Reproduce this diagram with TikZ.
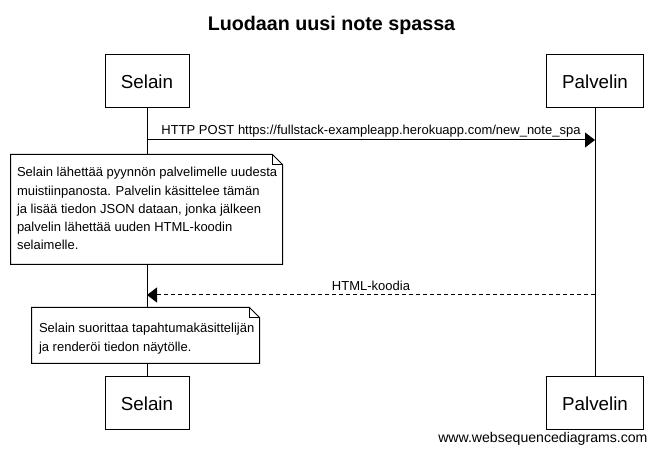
\documentclass[tikz,border=0pt]{standalone}
\usepackage{fontspec}
\setmainfont{Liberation Sans}
\usetikzlibrary{positioning,calc,arrows.meta}

\begin{document}
\begin{tikzpicture}[x=1pt,y=-1pt,line width=1pt,
    actor/.style={draw,fill=white,minimum height=53pt,inner sep=0pt,font=\fontsize{18.8}{22}\selectfont},
    msg/.style={-{Triangle[length=10pt,width=15pt]}},
    msgtext/.style={midway,anchor=base,inner sep=0pt,font=\fontsize{13}{16}\selectfont},
    notebox/.style={inner sep=0pt},
    notetext/.style={anchor=north west,inner sep=0pt,align=left,font=\fontsize{13}{18.2}\selectfont}]
    \useasboundingbox (0,0) rectangle (657,454);

    %% title
     \node (title) [anchor=base,inner sep=0pt,font=\bfseries\fontsize{19.7}{24}\selectfont] at (331.5,30.5) {Luodaan uusi note spassa};

    %% participants
     \node (sel1) [actor,minimum width=84pt] at (147,81.5) {Selain};
     \node (pal1) [actor,minimum width=97pt] at (595,81.5) {Palvelin};
     \node (sel2) [actor,minimum width=84pt] at (147,403.5) {Selain};
     \node (pal2) [actor,minimum width=97pt] at (595,403.5) {Palvelin};

     \draw (sel1) -- (sel2);
     \draw (pal1) -- (pal2);

    %% messages
     \coordinate (s1) at (147,140);
     \coordinate (p1) at (595,140);
     \coordinate (s2) at (147,295);
     \coordinate (p2) at (595,295);

     \draw[msg] (s1) -- node[msgtext,yshift=5.5pt] {HTTP POST https://fullstack-exampleapp.herokuapp.com/new\_note\_spa} (p1);
     \draw[msg,dash pattern=on 4pt off 3pt] (p2) -- node[msgtext,yshift=4.5pt] {HTML-koodia} (s2);

    %% note 1
     \node (n1) [notebox,minimum width=271pt,minimum height=109pt] at (146.5,209.5) {};
     \draw[fill=white] (n1.north west) -- ([xshift=-10pt]n1.north east) -- ([yshift=-10pt]n1.north east)
        -- (n1.south east) -- (n1.south west) -- cycle;
     \draw ([xshift=-10pt]n1.north east) |- ([yshift=-10pt]n1.north east);
     \node (t1) [notetext] at ($(n1.north west)+(6,12.5)$) {Selain lähettää pyynnön palvelimelle uudesta\\
        muistiinpanosta. Palvelin käsittelee tämän\\
        ja lisää tiedon JSON dataan, jonka jälkeen\\
        palvelin lähettää uuden HTML-koodin\\
        selaimelle.};

    %% note 2
     \node (n2) [notebox,minimum width=227pt,minimum height=55pt] at (145.5,335.5) {};
     \draw[fill=white] (n2.north west) -- ([xshift=-10pt]n2.north east) -- ([yshift=-10pt]n2.north east)
        -- (n2.south east) -- (n2.south west) -- cycle;
     \draw ([xshift=-10pt]n2.north east) |- ([yshift=-10pt]n2.north east);
     \node (t2) [notetext] at ($(n2.north west)+(7,15.5)$) {Selain suorittaa tapahtumakäsittelijän\\
        ja renderöi tiedon näytölle.};

    %% footer
     \node (www) [anchor=base east,inner sep=0pt,font=\fontsize{14.1}{16}\selectfont] at (648,443) {www.websequencediagrams.com};

    \end{tikzpicture}
\end{document}
